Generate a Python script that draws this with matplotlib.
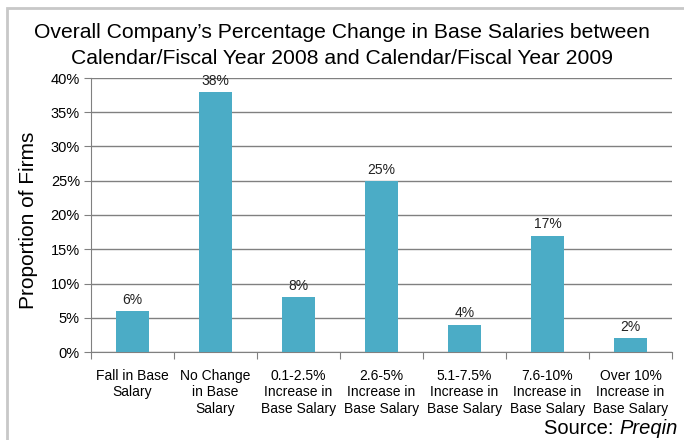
import matplotlib.pyplot as plt
from matplotlib.patches import Rectangle

plt.rcParams['font.family'] = ['Liberation Sans', 'DejaVu Sans']

categories = ['Fall in Base\nSalary', 'No Change\nin Base\nSalary',
              '0.1-2.5%\nIncrease in\nBase Salary', '2.6-5%\nIncrease in\nBase Salary',
              '5.1-7.5%\nIncrease in\nBase Salary', '7.6-10%\nIncrease in\nBase Salary',
              'Over 10%\nIncrease in\nBase Salary']
values = [6, 38, 8, 25, 4, 17, 2]
yticks = [0, 5, 10, 15, 20, 25, 30, 35, 40]

fig = plt.figure(figsize=(6.84, 4.4), dpi=100)
ax = fig.add_axes([91 / 684, (440 - 352) / 440, (672 - 91) / 684, (352 - 78) / 440])

# outer frame of the chart area
fig.patches.append(Rectangle((7 / 684, -0.1), 1.0, (440 - 8) / 440 + 0.1,
                             transform=fig.transFigure, fill=False,
                             edgecolor='#c8c8c8', linewidth=2))

x = list(range(len(values)))
ax.bar(x, values, width=0.40, color='#4bacc6', zorder=3)
for xi, v in zip(x, values):
    ax.text(xi, v + 0.6, f'{v}%', ha='center', va='bottom', fontsize=10, color='#222222')

ax.set_xlim(-0.5, len(values) - 0.5)
ax.set_ylim(0, 40)
ax.set_yticks(yticks)
ax.set_yticklabels([f'{t}%' for t in yticks], fontsize=10.5)
ax.set_xticks([i - 0.5 for i in range(len(values) + 1)])
ax.set_xticklabels([])
ax.set_xticks(x, minor=True)
ax.set_xticklabels(categories, minor=True, fontsize=10, linespacing=1.25)
ax.tick_params(axis='x', which='minor', length=0, pad=12)
ax.tick_params(axis='x', which='major', length=5, color='#808080', direction='out')
ax.tick_params(axis='y', length=5, color='#808080', direction='out', pad=3)

ax.grid(axis='y', color='#808080', linewidth=1, zorder=0)
for s in ['top', 'right']:
    ax.spines[s].set_visible(False)
ax.spines['left'].set_color('#808080')
ax.spines['bottom'].set_color('#808080')

ax.set_ylabel('Proportion of Firms', fontsize=15)
ax.yaxis.set_label_coords(38 / 684, 0.5, transform=fig.transFigure)
fig.text(0.5, 1 - 33 / 440, "Overall Company’s Percentage Change in Base Salaries between",
         ha='center', va='center', fontsize=15.2)
fig.text(0.5, 1 - 58 / 440, "Calendar/Fiscal Year 2008 and Calendar/Fiscal Year 2009",
         ha='center', va='center', fontsize=15.2)
fig.text(678 / 684, 1 - 428 / 440, 'Source: ', ha='right', va='center', fontsize=14.5)
src = fig.text(678 / 684, 1 - 428 / 440, 'Preqin', ha='right', va='center',
               fontsize=14.5, style='italic')
fig.canvas.draw()
bb = src.get_window_extent()
fig.texts[-2].set_x(bb.x0 / fig.bbox.width)

fig.savefig('out.png', dpi=100)
